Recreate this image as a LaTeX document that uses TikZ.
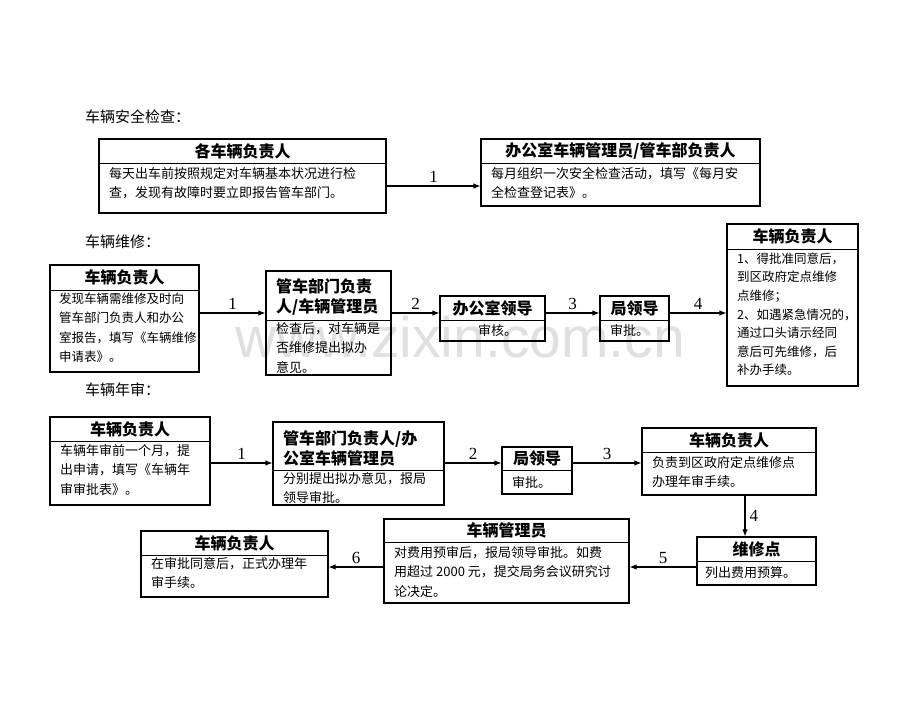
\documentclass[tikz,border=0pt]{standalone}
\usepackage{fontspec}
\setmainfont{Noto Sans CJK SC}
\newfontfamily\numfont{Liberation Serif}
\newfontfamily\wmfont{Liberation Sans}
\usetikzlibrary{arrows.meta}
\tikzset{
  boxst/.style={draw, line width=1.1pt, inner sep=0pt},
  divst/.style={line width=0.7pt},
  headst/.style={inner sep=0pt, font=\fontsize{16}{20}\selectfont\bfseries},
  headml/.style={inner sep=0pt, anchor=north west, align=left, font=\fontsize{16}{20}\selectfont\bfseries},
  bodyst/.style={inner sep=0pt, anchor=north west, align=left, font=\fontsize{13}{19.5}\selectfont},
  titlest/.style={inner sep=0pt, anchor=west, font=\fontsize{15}{18}\selectfont},
  arr/.style={line width=1.1pt, -{Latex[length=7pt,width=5.5pt]}},
  numst/.style={inner sep=0pt, font=\numfont\fontsize{17}{20}\selectfont},
}
\newcommand{\mybox}[6]{%
  \node[boxst, minimum width={(#4-#2)*1pt}, minimum height={(#5-#3)*1pt}] (#1) at ({(#2+#4)/2},{(#3+#5)/2}) {};
  \draw[divst] (#2,#6) -- (#4,#6);
}
\begin{document}
\begin{tikzpicture}[x=1pt,y=-1pt]
\useasboundingbox[fill=white] (0,0) rectangle (920,711);
% watermark
\node[inner sep=0pt, anchor=base, text=black!12, font=\wmfont\fontsize{57}{60}\selectfont] (wm) at (460,357) {www.zixin.com.cn};

% ---------- section 1 ----------
\node[titlest] (t1) at (85,117) {车辆安全检查：};
\mybox{a1}{99}{139}{386}{213}{163}
\node[headst] (a1h) at (242.5,151) {各车辆负责人};
\node[bodyst] (a1b) at (109,167) {每天出车前按照规定对车辆基本状况进行检\\查，发现有故障时要立即报告管车部门。};
\mybox{a2}{481}{139}{760}{206}{163}
\node[headst] (a2h) at (620.5,151) {办公室车辆管理员/管车部负责人};
\node[bodyst] (a2b) at (491,167) {每月组织一次安全检查活动，填写《每月安\\全检查登记表》。};
\coordinate (ra) at (0,186);
\draw[arr] (a1.east |- ra) -- node[numst, above=3pt] {1} (a2.west |- ra);

% ---------- section 2 ----------
\node[titlest] (t2) at (85,242) {车辆维修：};
\mybox{b1}{50}{265}{199}{372}{290}
\node[headst] (b1h) at (124.5,277.5) {车辆负责人};
\node[bodyst, font=\fontsize{12.5}{19.5}\selectfont] (b1b) at (59,292.5) {发现车辆需维修及时向\\管车部门负责人和办公\\室报告，填写《车辆维修\\申请表》。};
\mybox{b2}{266}{271}{391}{375}{320}
\node[headml] (b2h) at (276,278) {管车部门负责\\人/车辆管理员};
\node[bodyst] (b2b) at (276,322) {检查后，对车辆是\\否维修提出拟办\\意见。};
\mybox{b3}{440}{296}{545}{341}{320}
\node[headst] (b3h) at (492.5,308) {办公室领导};
\node[bodyst] (b3b) at (478,324) {审核。};
\mybox{b4}{600}{296}{669}{341}{320}
\node[headst] (b4h) at (634.5,308) {局领导};
\node[bodyst] (b4b) at (610,324) {审批。};
\mybox{b5}{727}{224}{858}{386}{249}
\node[headst] (b5h) at (792.5,236.5) {车辆负责人};
\node[bodyst, font=\fontsize{12.5}{18.6}\selectfont] (b5b) at (737,252.5) {1、得批准同意后，\\到区政府定点维修\\点维修；\\2、如遇紧急情况的，\\通过口头请示经同\\意后可先维修，后\\补办手续。};
\coordinate (rb) at (0,313);
\draw[arr] (b1.east |- rb) -- node[numst, above=3pt] {1} (b2.west |- rb);
\draw[arr] (b2.east |- rb) -- node[numst, above=3pt] {2} (b3.west |- rb);
\draw[arr] (b3.east |- rb) -- node[numst, above=3pt] {3} (b4.west |- rb);
\draw[arr] (b4.east |- rb) -- node[numst, above=3pt] {4} (b5.west |- rb);

% ---------- section 3 ----------
\node[titlest] (t3) at (85,390) {车辆年审：};
\mybox{c1}{50}{417}{210}{505}{441}
\node[headst] (c1h) at (130,429) {车辆负责人};
\node[bodyst] (c1b) at (60,444) {车辆年审前一个月，提\\出申请，填写《车辆年\\审审批表》。};
\mybox{c2}{273}{422}{444}{505}{470}
\node[headml] (c2h) at (283,430) {管车部门负责人/办\\公室车辆管理员};
\node[bodyst] (c2b) at (283,472) {分别提出拟办意见，报局\\领导审批。};
\mybox{c3}{502}{447}{572}{494}{470}
\node[headst] (c3h) at (537,458.5) {局领导};
\node[bodyst] (c3b) at (512,476) {审批。};
\mybox{c4}{642}{428}{816}{495}{452}
\node[headst] (c4h) at (729,440) {车辆负责人};
\node[bodyst] (c4b) at (652,456) {负责到区政府定点维修点\\办理年审手续。};
\mybox{c5}{697}{537}{816}{585}{561}
\node[headst] (c5h) at (756.5,549) {维修点};
\node[bodyst] (c5b) at (705,566) {列出费用预算。};
\mybox{c6}{384}{519}{629}{603}{542}
\node[headst] (c6h) at (506.5,530.5) {车辆管理员};
\node[bodyst] (c6b) at (394,546) {对费用预审后，报局领导审批。如费\\用超过 2000 元，提交局务会议研究讨\\论决定。};
\mybox{c7}{141}{531}{328}{597}{555}
\node[headst] (c7h) at (234.5,543) {车辆负责人};
\node[bodyst] (c7b) at (151,557) {在审批同意后，正式办理年\\审手续。};
\coordinate (rc) at (0,463);
\coordinate (rd) at (0,567);
\coordinate (cv) at (745,0);
\draw[arr] (c1.east |- rc) -- node[numst, above=3pt] {1} (c2.west |- rc);
\draw[arr] (c2.east |- rc) -- node[numst, above=3pt] {2} (c3.west |- rc);
\draw[arr] (c3.east |- rc) -- node[numst, above=3pt] {3} (c4.west |- rc);
\draw[arr] (c4.south -| cv) -- node[numst, right=4pt] {4} (c5.north -| cv);
\draw[arr] (c5.west |- rd) -- node[numst, above=3pt] {5} (c6.east |- rd);
\draw[arr] (c6.west |- rd) -- node[numst, above=3pt] {6} (c7.east |- rd);
\end{tikzpicture}
\end{document}
